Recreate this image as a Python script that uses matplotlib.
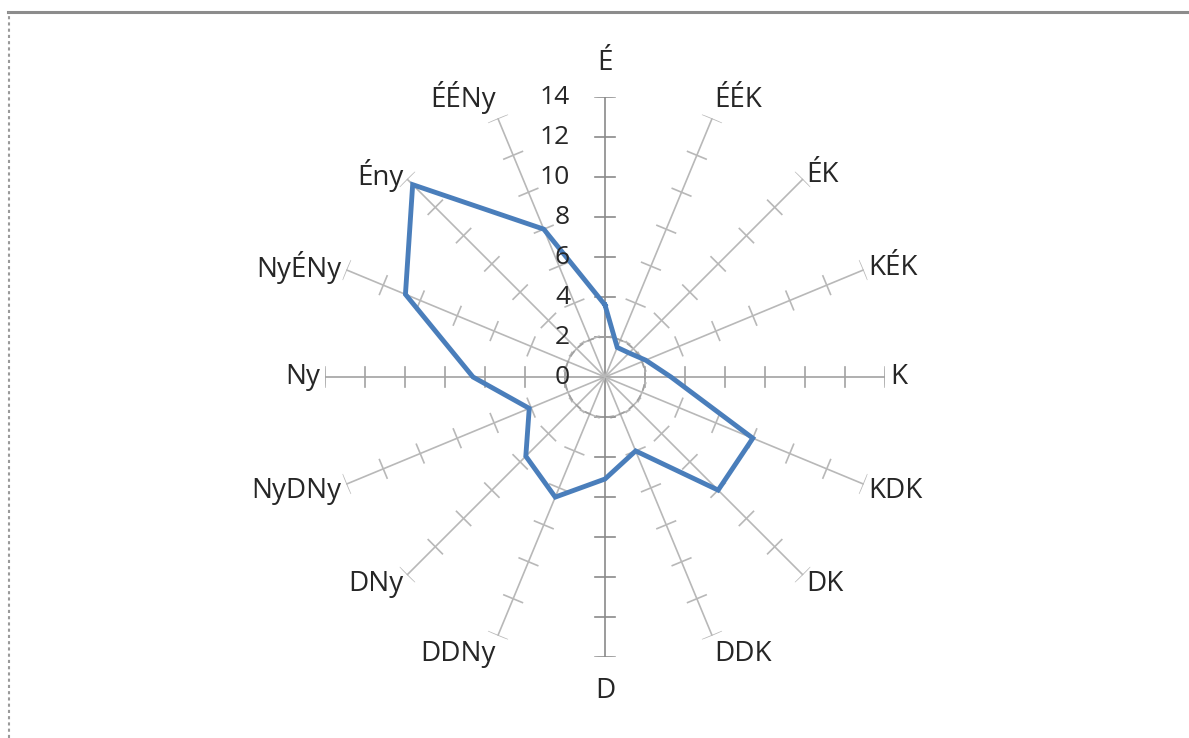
import numpy as np
import matplotlib
matplotlib.use("Agg")
import matplotlib.pyplot as plt

# szélirány adatok (É-tól az óramutató irányába)
iranyok = ["É", "ÉÉK", "ÉK", "KÉK", "K", "KDK", "DK", "DDK",
           "D", "DDNy", "DNy", "NyDNy", "Ny", "NyÉNy", "Ény", "ÉÉNy"]
ertekek = [3.6, 1.6, 1.7, 2.2, 3.3, 8.0, 8.0, 4.0,
           5.1, 6.5, 5.6, 4.1, 6.6, 10.8, 13.6, 8.0]
skala = [0, 2, 4, 6, 8, 10, 12, 14]

plt.rcParams['font.family'] = ['Open Sans', 'DejaVu Sans']

W, H = 1189, 738
cx, cy, R = 605, 377, 280
fig = plt.figure(figsize=(W / 100, H / 100), dpi=100)
fig.patch.set_facecolor('white')
ax = fig.add_axes([(cx - R) / W, (H - cy - R) / H, 2 * R / W, 2 * R / H],
                  projection='polar')
ax.set_theta_zero_location('N')
ax.set_theta_direction(-1)
ax.set_ylim(0, 14)
ax.grid(False)
ax.spines['polar'].set_visible(False)
ax.set_xticks([])
ax.set_yticks([])
ax.patch.set_alpha(0)

n = len(iranyok)
theta = np.arange(n) * 2 * np.pi / n

# tengelyek es osztasok
for i, t in enumerate(theta):
    if i in (0, 8):
        c = '#8a8a8a'
    elif i in (4, 12):
        c = '#a2a2a2'
    else:
        c = '#b8b8b8'
    ax.plot([t, t], [0, 14], color=c, lw=1.2, zorder=1)
    for r in skala[1:]:
        h = 0.5
        d = np.arctan(h / r)
        rr = np.hypot(r, h)
        ax.plot([t - d, t + d], [rr, rr], color=c, lw=1.2, zorder=1)

# szaggatott kor
kor = np.linspace(0, 2 * np.pi, 200)
ax.plot(kor, np.full_like(kor, 2.0), color='#a0a0a0', lw=1.2, ls=(0, (4, 3)), zorder=1)

# adatsor
ax.plot(np.append(theta, theta[0]), ertekek + ertekek[:1],
        color='#4a7ebb', lw=3.5, zorder=3, solid_joinstyle='miter')

# ertektengely feliratai
for v in skala:
    ax.annotate(str(v), xy=(0, v), xytext=(-35, 0), textcoords='offset pixels',
                ha='right', va='center', fontsize=19, color='#262626')

# iranyok feliratai
for t, lab in zip(theta, iranyok):
    s, c = np.sin(t), np.cos(t)
    if abs(s) < 0.1:
        ha = 'center'
    else:
        ha = 'left' if s > 0 else 'right'
    if c > 0.9:
        va = 'bottom'
    elif c < -0.9:
        va = 'top'
    else:
        va = 'center'
    pad = 20 if abs(s) < 0.1 else 5
    dy = pad * c
    if -0.9 <= c < -0.1:
        dy -= 5
    ax.annotate(lab, xy=(t, 14), xytext=(pad * s, dy), textcoords='offset pixels',
                ha=ha, va=va, fontsize=20, color='#262626', annotation_clip=False)

# keret
fig.add_artist(plt.Line2D([8 / W, 1], [1 - 12 / H] * 2, transform=fig.transFigure,
                          color='#8c8c8c', lw=2.2))
fig.add_artist(plt.Line2D([9 / W] * 2, [0, 1 - 12 / H], transform=fig.transFigure,
                          color='#9a9a9a', lw=1.5, ls=(0, (1.5, 1.5))))

fig.savefig('out.png', dpi=100)
